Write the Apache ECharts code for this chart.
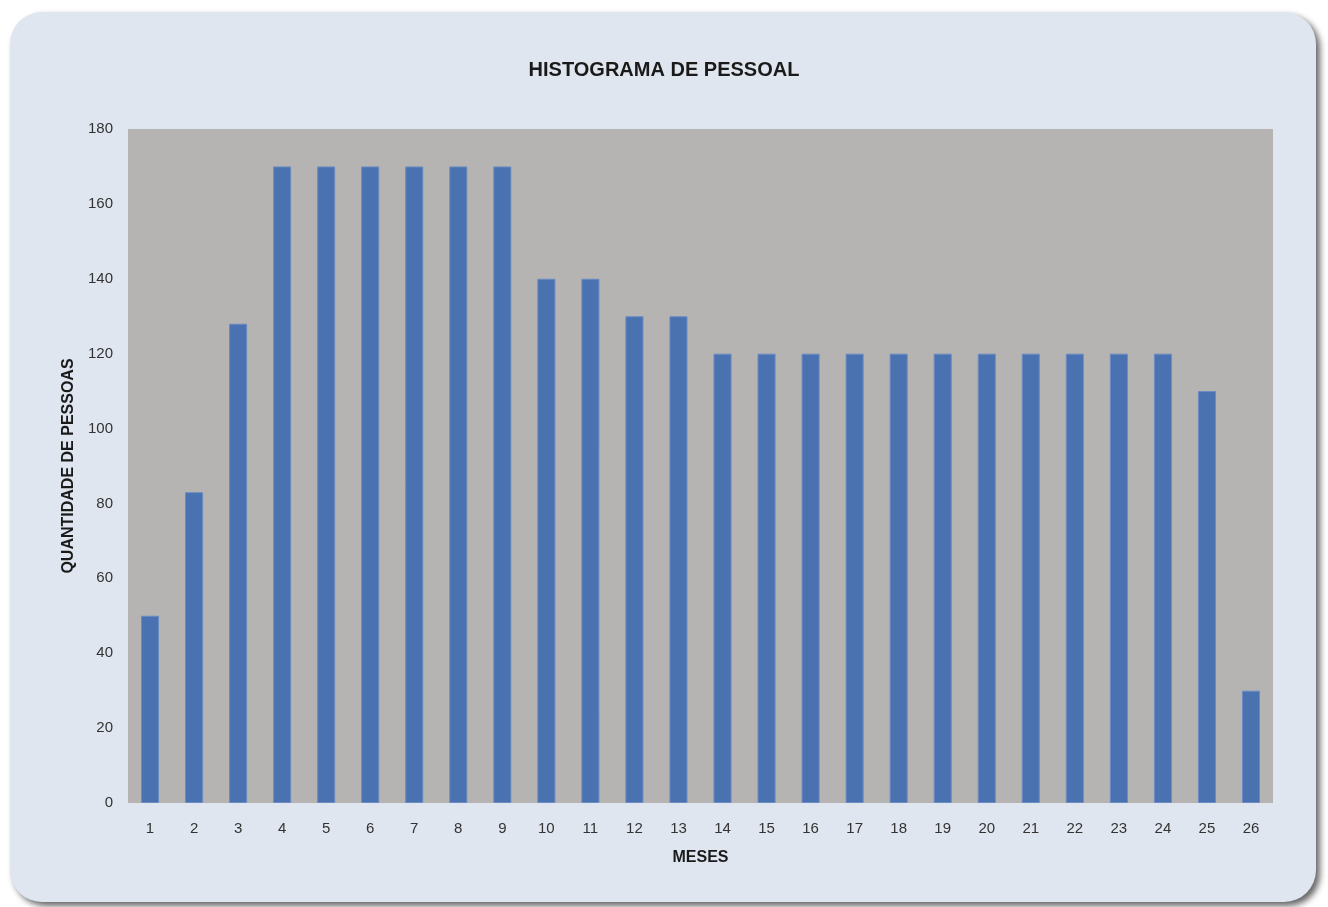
<!DOCTYPE html>
<html>
<head>
<meta charset="utf-8">
<script src="https://cdn.jsdelivr.net/npm/echarts@6/dist/echarts.min.js"></script>
<style>
html,body{margin:0;padding:0;background:#ffffff;}
#chart{width:1328px;height:907px;}
</style>
</head>
<body>
<div id="chart"></div>
<script>
var months = ['1','2','3','4','5','6','7','8','9','10','11','12','13','14','15','16','17','18','19','20','21','22','23','24','25','26'];
var people = [50, 83, 128, 170, 170, 170, 170, 170, 170, 140, 140, 130, 130, 120, 120, 120, 120, 120, 120, 120, 120, 120, 120, 120, 110, 30];
var yTicks = [0, 20, 40, 60, 80, 100, 120, 140, 160, 180];

var chart = echarts.init(document.getElementById('chart'));
chart.setOption({
  animation: false,
  backgroundColor: '#ffffff',
  graphic: [{
    type: 'rect',
    z: -10,
    shape: {x: 10, y: 12, width: 1306, height: 890, r: 32},
    style: {
      fill: '#dfe6ef',
      shadowBlur: 6,
      shadowOffsetX: 4,
      shadowOffsetY: 4,
      shadowColor: 'rgba(0,0,0,0.6)'
    }
  }],
  title: {
    text: 'HISTOGRAMA DE PESSOAL',
    left: 'center',
    top: 55,
    textStyle: {fontFamily: 'Liberation Sans, Arial', fontSize: 20, fontWeight: 'bold', color: '#1a1a1a'}
  },
  grid: {
    left: 128, right: 55, top: 129, bottom: 104,
    show: true, backgroundColor: '#b5b4b3', borderWidth: 0
  },
  xAxis: {
    type: 'category',
    data: months,
    name: 'MESES',
    nameLocation: 'middle',
    nameGap: 47,
    nameTextStyle: {fontFamily: 'Liberation Sans, Arial', fontSize: 16, fontWeight: 'bold', color: '#1a1a1a'},
    axisLine: {show: false},
    axisTick: {show: false},
    axisLabel: {margin: 18, fontFamily: 'Liberation Sans, Arial', fontSize: 15, color: '#333333'}
  },
  yAxis: {
    type: 'value',
    min: 0, max: 180, interval: 20,
    name: 'QUANTIDADE DE PESSOAS',
    nameLocation: 'middle',
    nameGap: 51,
    nameTextStyle: {fontFamily: 'Liberation Sans, Arial', fontSize: 16, fontWeight: 'bold', color: '#1a1a1a'},
    axisLine: {show: false},
    axisTick: {show: false},
    splitLine: {show: false},
    axisLabel: {
      margin: 15, fontFamily: 'Liberation Sans, Arial', fontSize: 15, color: '#333333',
      formatter: function (v) { return yTicks.indexOf(v) >= 0 ? String(v) : ''; }
    }
  },
  series: [{
    type: 'bar',
    data: people,
    barWidth: '41%',
    itemStyle: {color: '#4a72b0', borderColor: '#6a8cc4', borderWidth: 1}
  }]
});
</script>
</body>
</html>
